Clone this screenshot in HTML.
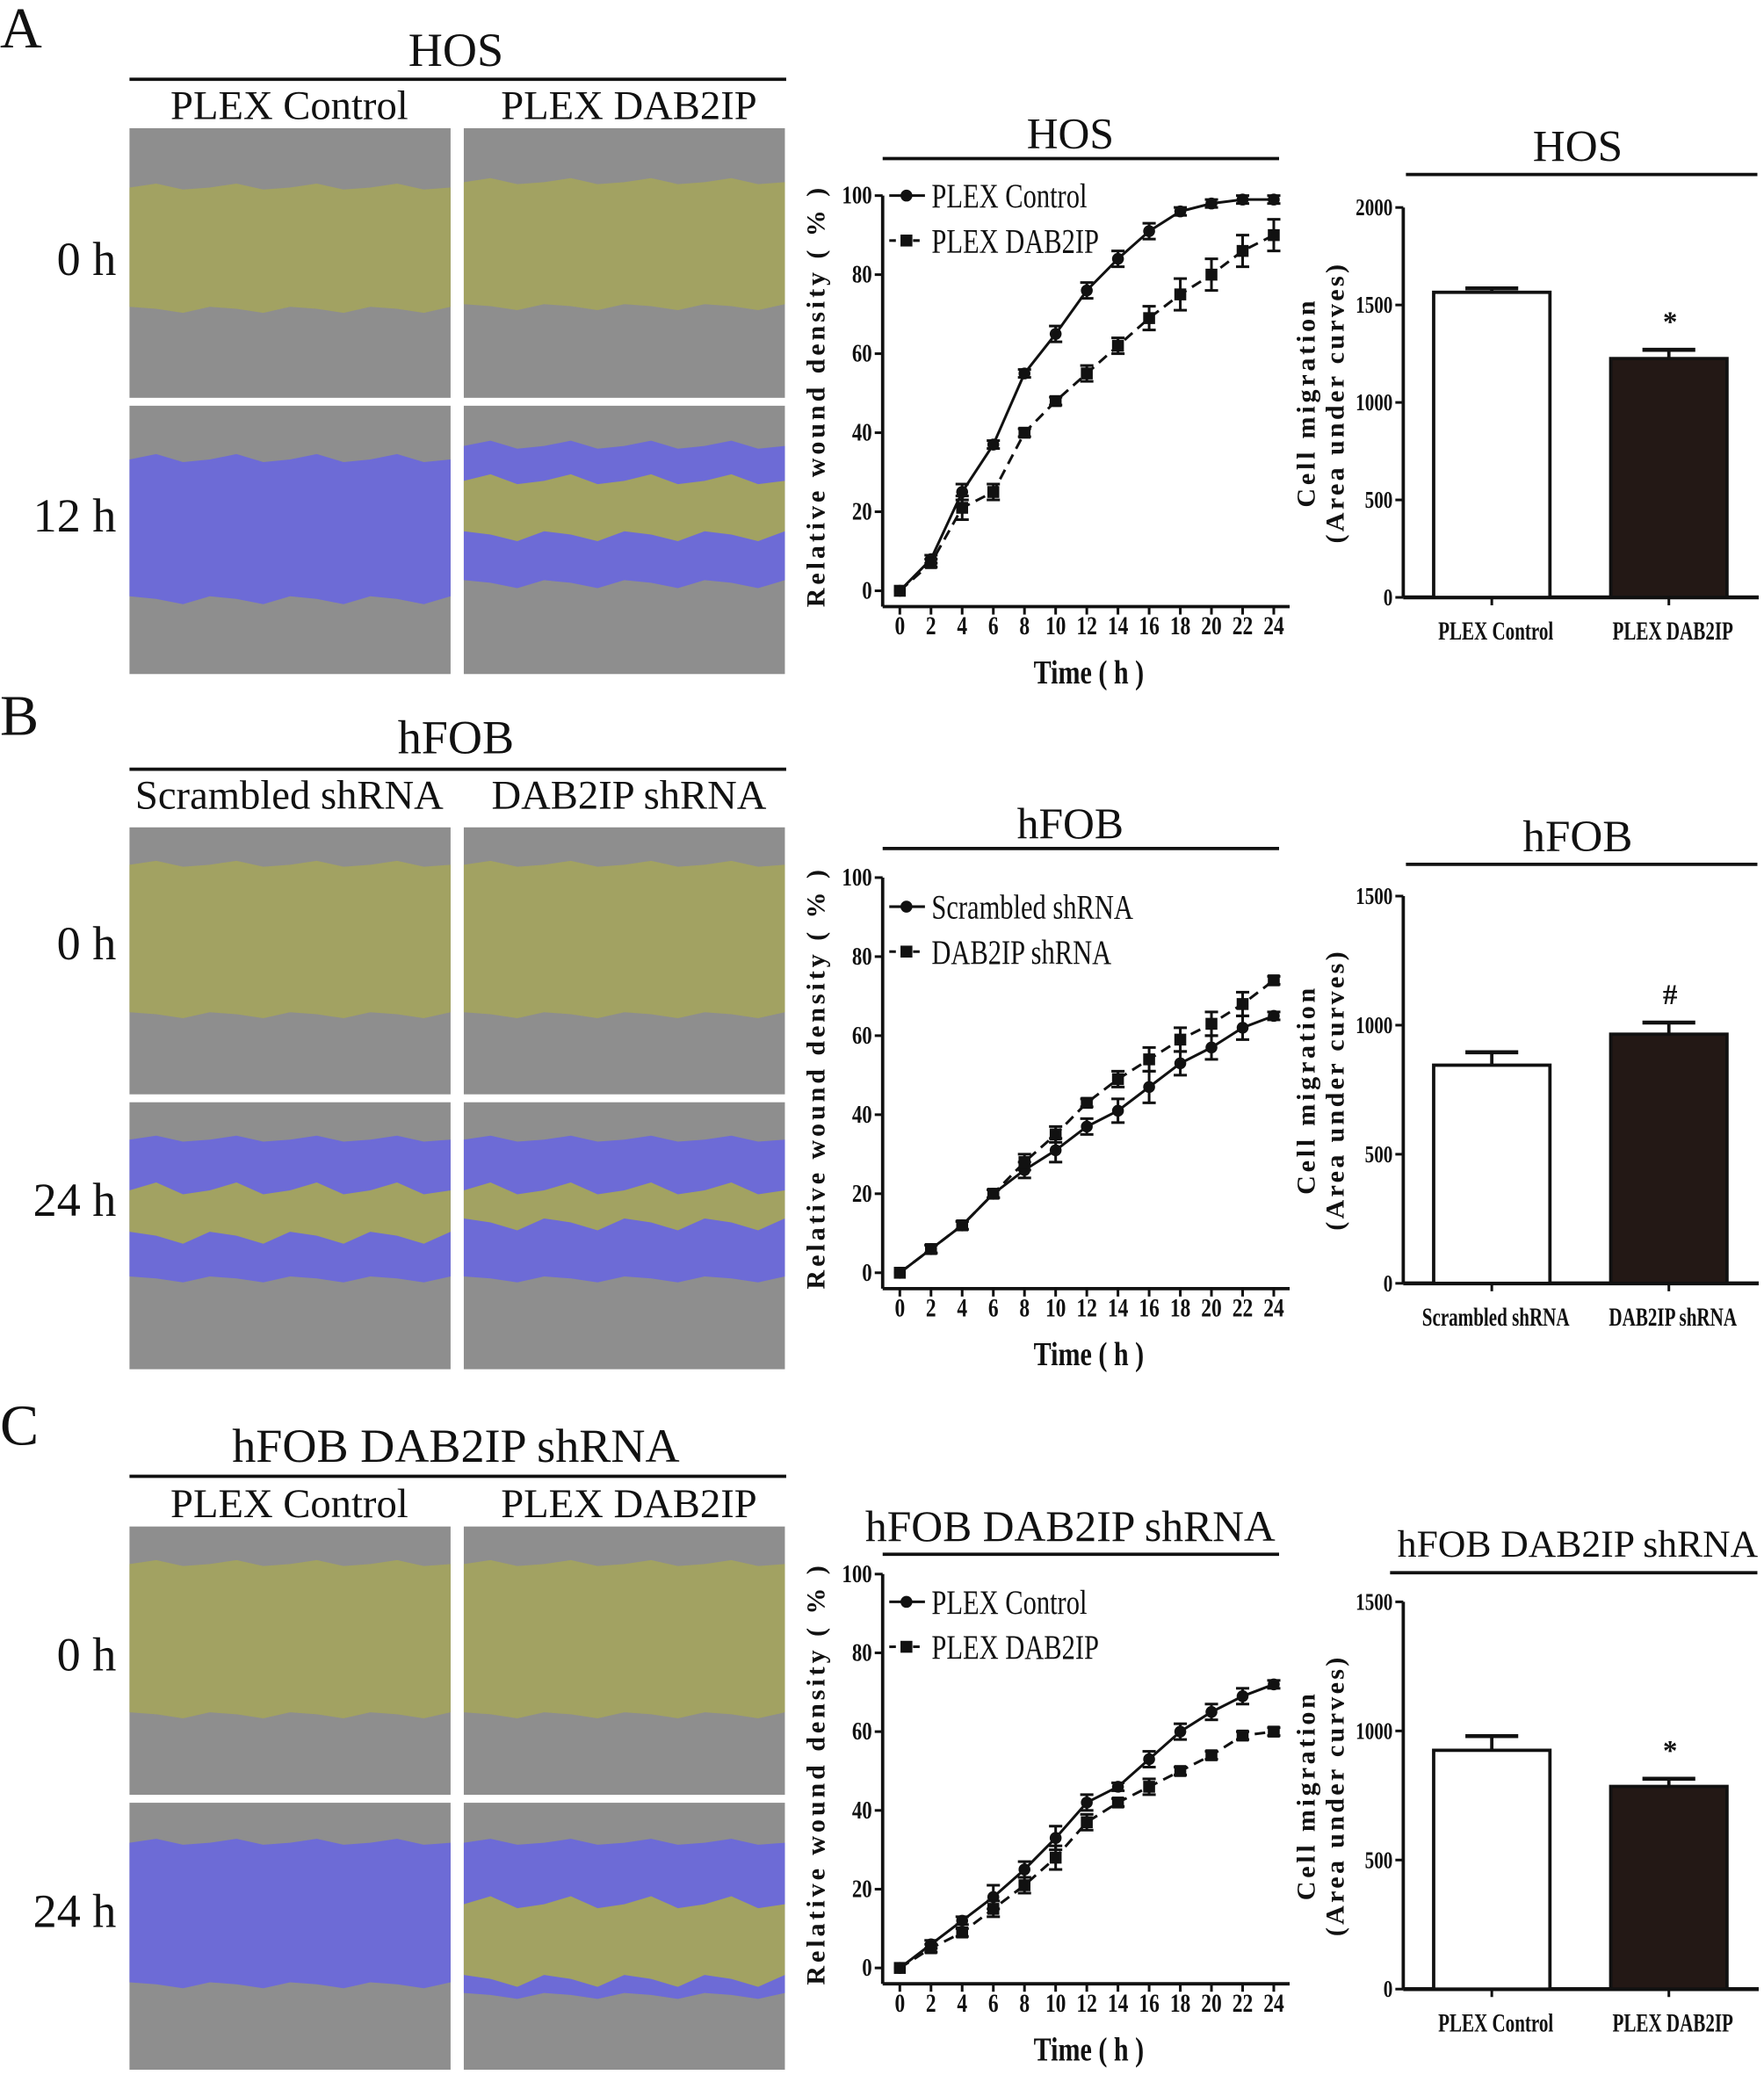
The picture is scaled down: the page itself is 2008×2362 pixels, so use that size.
<!DOCTYPE html>
<html><head><meta charset="utf-8"><style>
html,body{margin:0;padding:0;background:#fff;}
svg{display:block;}
text{font-family:"Liberation Serif",serif;fill:#111;}
</style></head><body>
<svg id="fig" width="2008" height="2362" viewBox="0 0 1335 1570" preserveAspectRatio="none" xmlns="http://www.w3.org/2000/svg">
</svg>
<script>
// ---------- data ----------
const timeCats = [0,2,4,6,8,10,12,14,16,18,20,22,24];
const yTicksLine = [0,20,40,60,80,100];
const aControl = [0,8,25,37,55,65,76,84,91,96,98,99,99];
const aControlErr = [0,1,2,1,1,2,2,2,2,1,1,1,1];
const aDab = [0,7,21,25,40,48,55,62,69,75,80,86,90];
const aDabErr = [0,1,3,2,1,1,2,2,3,4,4,4,4];
const bScr = [0,6,12,20,26,31,37,41,47,53,57,62,65];
const bScrErr = [0,1,1,1,2,3,2,3,4,3,3,3,1];
const bDab = [0,6,12,20,28,35,43,49,54,59,63,68,74];
const bDabErr = [0,1,1,1,2,2,1,2,3,3,3,3,1];
const cCtrl = [0,6,12,18,25,33,42,46,53,60,65,69,72];
const cCtrlErr = [0,1,1,3,2,3,2,1,2,2,2,2,1];
const cDab = [0,5,9,15,21,28,37,42,46,50,54,59,60];
const cDabErr = [0,1,1,2,2,3,2,1,2,1,1,1,1];
const aBarCats = ["PLEX Control","PLEX DAB2IP"];
const aBarVals = [1565,1225];
const aBarErr = [20,45];
const aBarTicks = [0,500,1000,1500,2000];
const bBarCats = ["Scrambled shRNA","DAB2IP shRNA"];
const bBarVals = [845,965];
const bBarErr = [50,45];
const bBarTicks = [0,500,1000,1500];
const cBarCats = ["PLEX Control","PLEX DAB2IP"];
const cBarVals = [925,785];
const cBarErr = [55,30];
const cBarTicks = [0,500,1000,1500];

const NS="http://www.w3.org/2000/svg";
const svg=document.getElementById('fig');
function el(tag,attrs,parent,txt){const e=document.createElementNS(NS,tag);for(const k in attrs)e.setAttribute(k,attrs[k]);if(txt!==undefined)e.textContent=txt;(parent||svg).appendChild(e);return e;}
function group(name){const g=el('g',{},svg);return g;}
function ctext(g,x,y,size,anchor,txt,sx,bold){
  return el('text',{x:0,y:0,'font-size':size,'font-weight':bold?'bold':'normal','text-anchor':anchor,transform:`translate(${x},${y}) scale(${sx},1)`},g,txt);
}

// ---------- micrograph panels ----------
function micro(g,x,y,w,h,name,bands){
  const p=el('g',{},g);
  
  
  el('rect',{x:x,y:y,width:w,height:h,fill:'#8e8e8e'},p);
  bands.forEach(b=>{
    const n=12,pts=[];
    for(let i=0;i<=n;i++){const jx=x+w*i/n;const j=(i%3===1?-b[3]:(i%3===2?b[3]*0.5:0));pts.push(jx+','+(y+h*b[1]+j));}
    for(let i=n;i>=0;i--){const jx=x+w*i/n;const j=(i%3===2?b[3]:(i%3===0?-b[3]*0.5:0));pts.push(jx+','+(y+h*b[2]+j));}
    el('polygon',{points:pts.join(' '),fill:b[0]},p);
  });
}
const Y='#a2a262',B='#6d6bd6';
function panelImages(label,ly,title,ty,lineY,sub1,sub2,subY,r1,r2,l1,l2,lb1,lb2,bands){
  const g=group('panel-'+label.toLowerCase()+'-images');
  el('text',{x:0,y:ly,'font-size':44},g,label);
  el('text',{x:345,y:ty,'font-size':36,'text-anchor':'middle'},g,title);
  el('line',{x1:98,x2:595,y1:lineY,y2:lineY,stroke:'#111','stroke-width':2.5},g);
  el('text',{x:219,y:subY,'font-size':31,'text-anchor':'middle'},g,sub1);
  el('text',{x:476,y:subY,'font-size':31,'text-anchor':'middle'},g,sub2);
  el('text',{x:88,y:lb1,'font-size':36,'text-anchor':'end'},g,l1);
  el('text',{x:88,y:lb2,'font-size':36,'text-anchor':'end'},g,l2);
  micro(g,98,r1[0],243,r1[1]-r1[0],'micrograph-1',bands[0]);
  micro(g,351,r1[0],243,r1[1]-r1[0],'micrograph-2',bands[1]);
  micro(g,98,r2[0],243,r2[1]-r2[0],'micrograph-3',bands[2]);
  micro(g,351,r2[0],243,r2[1]-r2[0],'micrograph-4',bands[3]);
}
panelImages('A',36,'HOS',50,60,'PLEX Control','PLEX DAB2IP',90,[97,301],[307,510],'0 h','12 h',208,402,
 [[[Y,0.22,0.67,3]],[[Y,0.2,0.66,3]],[[B,0.2,0.72,4]],[[B,0.15,0.66,4],[Y,0.28,0.48,5]]]);
panelImages('B',556,'hFOB',570,582,'Scrambled shRNA','DAB2IP shRNA',612,[626,828],[834,1036],'0 h','24 h',726,920,
 [[[Y,0.14,0.70,3]],[[Y,0.14,0.70,3]],[[B,0.14,0.66,3],[Y,0.33,0.5,6]],[[B,0.14,0.66,3],[Y,0.33,0.45,6]]]);
panelImages('C',1093,'hFOB DAB2IP shRNA',1106,1117,'PLEX Control','PLEX DAB2IP',1148,[1155,1358],[1364,1566],'0 h','24 h',1264,1458,
 [[[Y,0.14,0.70,3]],[[Y,0.14,0.70,3]],[[B,0.15,0.68,3]],[[B,0.15,0.72,3],[Y,0.38,0.66,6]]]);

// ---------- line charts ----------
function lineChart(name,title,titleY,titleLineY,y0,y100,s1,e1,s2,e2,n1,n2,legY){
  const g=group(name);
  const xs=v=>681+(v/24)*(964-681);
  const ys=v=>y0-(v/100)*(y0-y100);
  const axisY=y0+12;
  el('text',{x:810,y:titleY,'font-size':33,'text-anchor':'middle'},g,title);
  el('line',{x1:668,x2:968,y1:titleLineY,y2:titleLineY,stroke:'#111','stroke-width':2.5},g);
  el('line',{x1:668,x2:668,y1:y100,y2:axisY,stroke:'#111','stroke-width':2.5},g);
  el('line',{x1:668,x2:976,y1:axisY,y2:axisY,stroke:'#111','stroke-width':2.5},g);
  yTicksLine.forEach(t=>{
    el('line',{x1:662,x2:668,y1:ys(t),y2:ys(t),stroke:'#111','stroke-width':2},g);
    ctext(g,660,ys(t)+6,19,'end',t,0.8,true);
  });
  timeCats.forEach(t=>{
    el('line',{x1:xs(t),x2:xs(t),y1:axisY,y2:axisY+6,stroke:'#111','stroke-width':2},g);
    ctext(g,xs(t),axisY+21,20,'middle',t,0.78,true);
  });
  ctext(g,824,axisY+58,25,'middle','Time ( h )',0.8,true);
  el('text',{x:0,y:0,'font-size':20,'font-weight':'bold','text-anchor':'middle','letter-spacing':'2.6',transform:`translate(624,${(y0+y100)/2+2}) rotate(-90)`},g,'Relative wound density ( % )');
  [[s1,e1,'none','circle'],[s2,e2,'8,5','square']].forEach(([s,e,dash,m],k)=>{
    const sg=el('g',{},g);
    
    
    el('polyline',{points:timeCats.map((t,i)=>xs(t)+','+ys(s[i])).join(' '),fill:'none',stroke:'#111','stroke-width':2,'stroke-dasharray':dash},sg);
    timeCats.forEach((t,i)=>{
      const x=xs(t);
      if(e[i]>0){el('line',{x1:x,x2:x,y1:ys(s[i]+e[i]),y2:ys(s[i]-e[i]),stroke:'#111','stroke-width':2},sg);
        el('line',{x1:x-5,x2:x+5,y1:ys(s[i]+e[i]),y2:ys(s[i]+e[i]),stroke:'#111','stroke-width':2},sg);
        el('line',{x1:x-5,x2:x+5,y1:ys(s[i]-e[i]),y2:ys(s[i]-e[i]),stroke:'#111','stroke-width':2},sg);}
      if(m==='circle')el('circle',{cx:x,cy:ys(s[i]),r:4.5,fill:'#111'},sg);
      else el('rect',{x:x-4.5,y:ys(s[i])-4.5,width:9,height:9,fill:'#111'},sg);
    });
  });
  const lg=el('g',{},g);
  
  
  el('line',{x1:673,x2:700,y1:legY,y2:legY,stroke:'#111','stroke-width':2},lg);
  el('circle',{cx:686,cy:legY,r:4.5,fill:'#111'},lg);
  ctext(lg,705,legY+9,26,'start',n1,0.78,false);
  el('line',{x1:673,x2:700,y1:legY+34,y2:legY+34,stroke:'#111','stroke-width':2,'stroke-dasharray':'5,4'},lg);
  el('rect',{x:681.5,y:legY+29.5,width:9,height:9,fill:'#111'},lg);
  ctext(lg,705,legY+43,26,'start',n2,0.78,false);
}
lineChart('line-chart-a','HOS',112,120,447,148,aControl,aControlErr,aDab,aDabErr,'PLEX Control','PLEX DAB2IP',148);
lineChart('line-chart-b','hFOB',634,642,963,664,bScr,bScrErr,bDab,bDabErr,'Scrambled shRNA','DAB2IP shRNA',686);
lineChart('line-chart-c','hFOB DAB2IP shRNA',1166,1176,1489,1191,cCtrl,cCtrlErr,cDab,cDabErr,'PLEX Control','PLEX DAB2IP',1212);

// ---------- bar charts ----------
function barChart(name,title,titleY,tl,tlx,tfs,y0,yTop,ticks,cats,vals,errs,mark){
  const g=group(name);
  const max=ticks[ticks.length-1];
  const ys=v=>y0-(v/max)*(y0-yTop);
  el('text',{x:1194,y:titleY,'font-size':tfs,'text-anchor':'middle'},g,title);
  el('line',{x1:tlx,x2:1330,y1:tl,y2:tl,stroke:'#111','stroke-width':2.5},g);
  el('line',{x1:1062,x2:1062,y1:yTop,y2:y0,stroke:'#111','stroke-width':2.5},g);
  el('line',{x1:1062,x2:1331,y1:y0,y2:y0,stroke:'#111','stroke-width':3},g);
  ticks.forEach(t=>{
    el('line',{x1:1056,x2:1062,y1:ys(t),y2:ys(t),stroke:'#111','stroke-width':2},g);
    ctext(g,1054,ys(t)+6,18,'end',t,0.78,true);
  });
  el('text',{x:0,y:0,'font-size':20,'font-weight':'bold','text-anchor':'middle','letter-spacing':'2.5',transform:`translate(995,${(y0+yTop)/2}) rotate(-90)`},g,'Cell migration');
  el('text',{x:0,y:0,'font-size':20,'font-weight':'bold','text-anchor':'middle','letter-spacing':'2.2',transform:`translate(1017,${(y0+yTop)/2}) rotate(-90)`},g,'(Area under curves)');
  const xs=[1129,1263];
  cats.forEach((c,i)=>{
    const bx=xs[i];
    const r=el('rect',{x:bx-44,y:ys(vals[i]),width:88,height:y0-ys(vals[i]),fill:i?'#231815':'#fff',stroke:'#111','stroke-width':2.5},g);
    
    
    el('line',{x1:bx,x2:bx,y1:ys(vals[i]),y2:ys(vals[i]+errs[i]),stroke:'#111','stroke-width':2.5},g);
    el('line',{x1:bx-20,x2:bx+20,y1:ys(vals[i]+errs[i]),y2:ys(vals[i]+errs[i]),stroke:'#111','stroke-width':3},g);
    el('line',{x1:bx,x2:bx,y1:y0,y2:y0+6,stroke:'#111','stroke-width':2},g);
    ctext(g,bx+3,y0+32,20,'middle',c,0.7,true);
  });
  el('text',{x:1264,y:ys(vals[1]+errs[1])-14,'font-size':22,'font-weight':'bold','text-anchor':'middle'},g,mark);
}
barChart('bar-chart-a','HOS',122,132,1064,34,452,157,aBarTicks,aBarCats,aBarVals,aBarErr,'*');
barChart('bar-chart-b','hFOB',644,654,1064,34,971,678,bBarTicks,bBarCats,bBarVals,bBarErr,'#');
barChart('bar-chart-c','hFOB DAB2IP shRNA',1178,1190,1052,29,1505,1212,cBarTicks,cBarCats,cBarVals,cBarErr,'*');
</script>
</body></html>
